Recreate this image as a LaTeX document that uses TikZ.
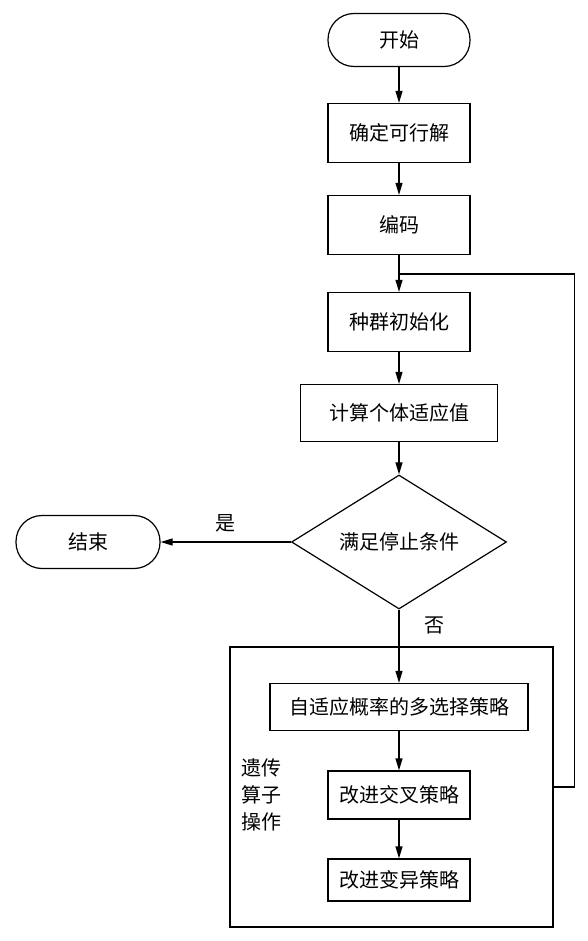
\documentclass[tikz,border=0pt]{standalone}
\usepackage{fontspec}
\setmainfont{Noto Sans CJK SC}
\usetikzlibrary{positioning,shapes.geometric,arrows.meta}

\begin{document}
\begin{tikzpicture}[x=1pt,y=1pt,->,>={Triangle[length=12pt,width=7pt]},line width=1.2pt,
      font=\fontsize{20}{27}\selectfont,
      block/.style={rectangle, draw, minimum width=142pt, minimum height=59pt, inner sep=0pt},
      term/.style={rectangle, draw, rounded corners=26pt, minimum width=142pt, minimum height=53pt},
      cond/.style={diamond, draw, aspect=1.6, minimum width=215pt, minimum height=134pt, inner sep=0pt}]
    \useasboundingbox (0,0) rectangle (588,-941);
    
    \node[term] (1) at (399,-40) {开始};
    \node[block] (2) [below of=1, node distance=93pt] {确定可行解};
    \node[block] (3) [below of=2, node distance=92pt] {编码};
    \node[block] (4) [below of=3, node distance=97pt] {种群初始化};
    \node[block, minimum width=197pt, minimum height=57pt] (5) [below of=4, node distance=91pt] {计算个体适应值};
    \node[cond] (6) [below of=5, node distance=129pt] {满足停止条件};
    \node[term, minimum width=144pt] (7) [left of=6, node distance=311pt] {结束};
    \node[draw, minimum width=323pt, minimum height=280pt] (8) at (391.5,-787) {};
    \node[block, minimum width=258pt, minimum height=47pt] (9) at (399,-707) {自适应概率的多选择策略};
    \node[block, minimum height=48pt] (10) [below of=9, node distance=88pt] {改进交叉策略};
    \node[block, minimum height=42pt] (11) [below of=10, node distance=85pt] {改进变异策略};
    \node[align=left] (12) at (261,-795) {遗传\\算子\\操作};
    \coordinate (13) at (399,-274);
    
    \path (1) edge (2)
    (2) edge (3)
    (3) edge (4)
    (4) edge (5)
    (5) edge (6)
    (6) edge node[above=6pt, pos=0.5] {是} (7)
    (6) edge node[right=22pt, pos=0.22] {否} (9)
    (9) edge (10)
    (10) edge (11);
    \draw[-] (8.east) -- ++(21,0) |- (13);
    \end{tikzpicture}
\end{document}
